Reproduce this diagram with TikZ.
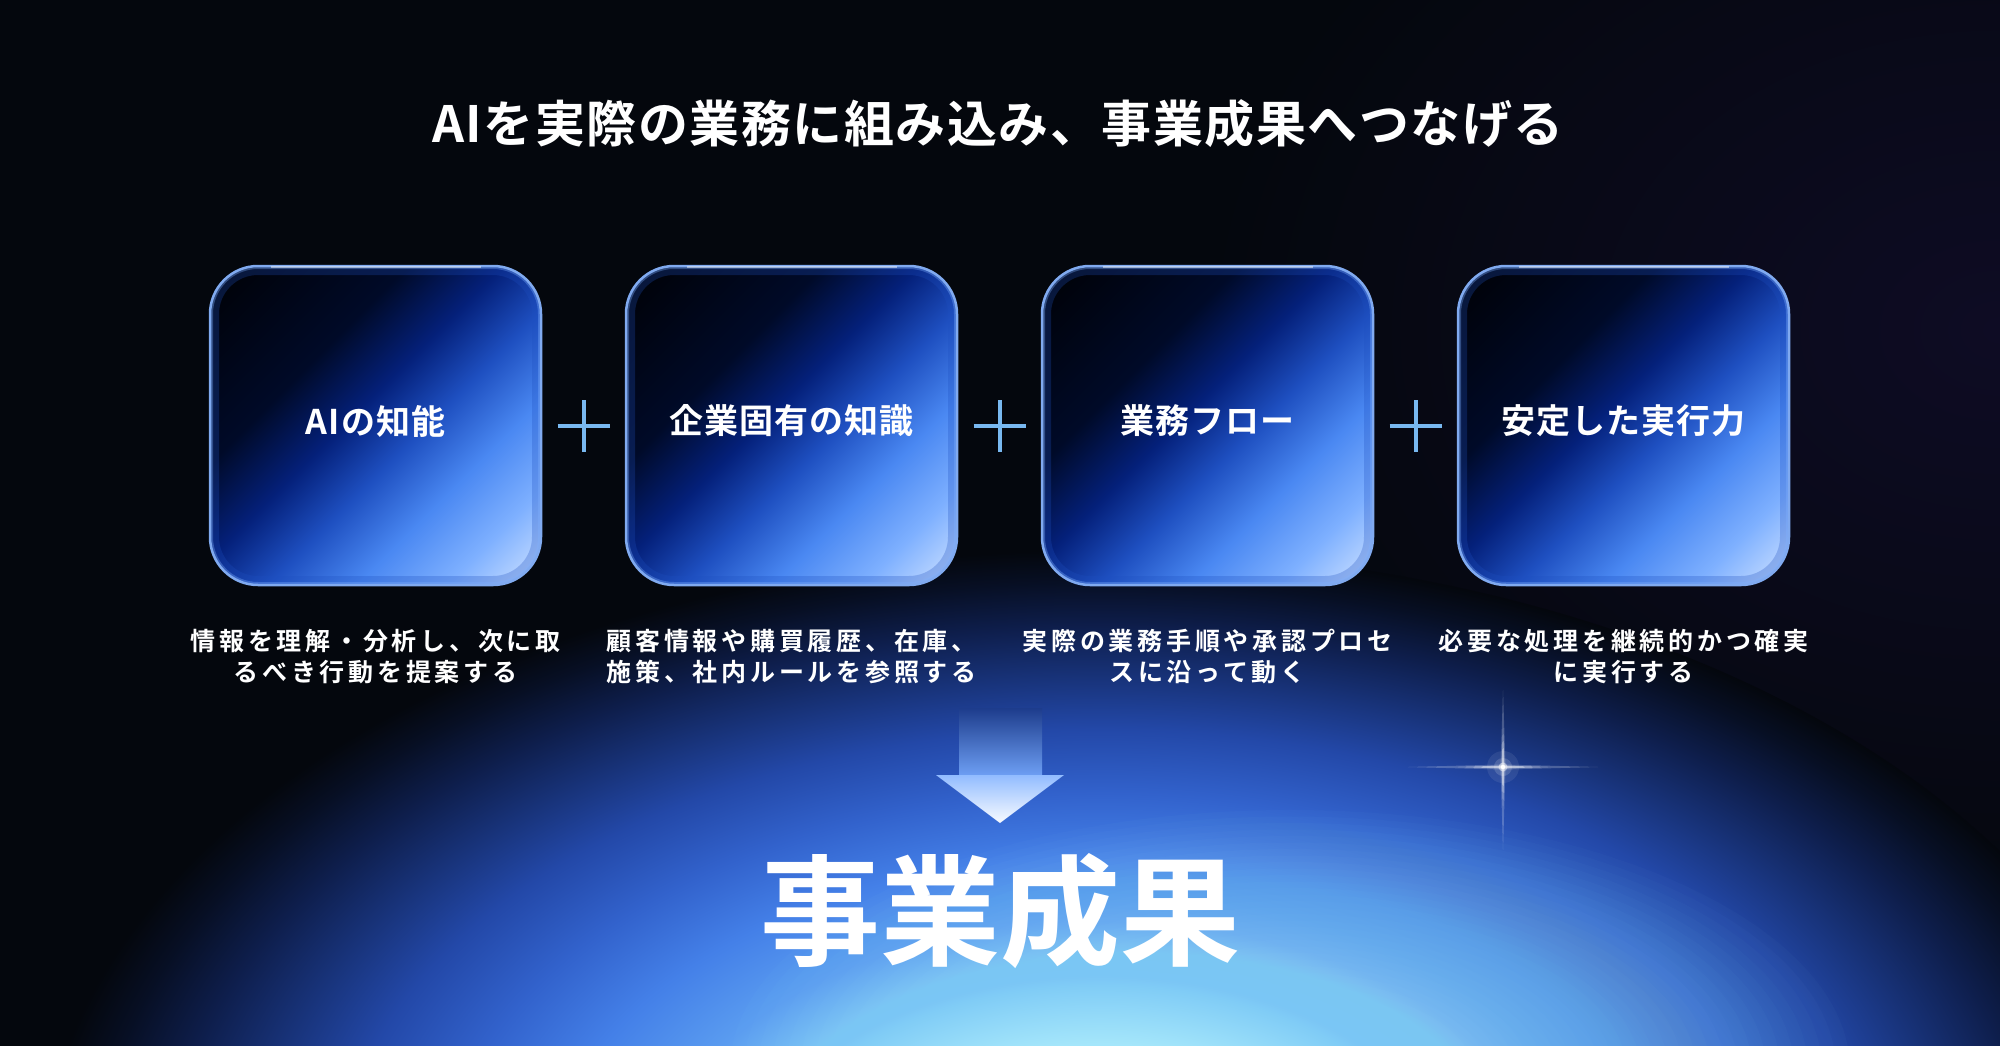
\documentclass[tikz,border=0pt]{standalone}
\usepackage{fontspec}
\setmainfont{Noto Sans CJK JP}[BoldFont={Noto Sans CJK JP Bold}]
\definecolor{bgc}{HTML}{04070D}
\definecolor{g0}{HTML}{E0FBFF}
\definecolor{g1}{HTML}{B0EEFC}
\definecolor{g2}{HTML}{80CCF6}
\definecolor{g3}{HTML}{5A9CF0}
\definecolor{g4}{HTML}{4480E8}
\definecolor{g5}{HTML}{3262CC}
\definecolor{g6}{HTML}{2348A8}
\definecolor{g7}{HTML}{18337A}
\definecolor{g8}{HTML}{0E1E4C}
\definecolor{g9}{HTML}{070F24}
\definecolor{tint}{HTML}{0E0C24}
\definecolor{cyanc}{HTML}{A4F0FC}
\definecolor{shafttop}{HTML}{1D3C8C}
\definecolor{b0}{HTML}{000105}
\definecolor{b1}{HTML}{000A28}
\definecolor{b2}{HTML}{04207A}
\definecolor{b3}{HTML}{1E4FC0}
\definecolor{b4}{HTML}{4A88F2}
\definecolor{b5}{HTML}{7EB0FF}
\definecolor{b6}{HTML}{CFE2FF}
\definecolor{rimc}{HTML}{80AAF0}
\definecolor{plusc}{HTML}{78B8F0}
\pgfdeclareradialshading{glow}{\pgfpoint{0bp}{0bp}}{color(0bp)=(g0); color(5bp)=(g1); color(8bp)=(g2); color(10.5bp)=(g3); color(13bp)=(g4); color(15.5bp)=(g5); color(18bp)=(g6); color(20bp)=(g7); color(22bp)=(g8); color(23.75bp)=(g9); color(25bp)=(bgc); color(50bp)=(bgc)}
\pgfdeclareradialshading{tintsh}{\pgfpoint{0bp}{0bp}}{color(0bp)=(tint); color(25bp)=(bgc); color(50bp)=(bgc)}
\pgfdeclarehorizontalshading{boxsh}{100bp}{color(0bp)=(b0); color(15bp)=(b0); color(36bp)=(b1); color(46.5bp)=(b2); color(55.6bp)=(b3); color(65.4bp)=(b4); color(75.2bp)=(b5); color(85bp)=(b6); color(100bp)=(b6)}
\begin{document}
\begin{tikzpicture}[x=1pt,y=-1pt,
  boxfill/.style={shading=boxsh, shading angle=-45, rounded corners=48},
  innerglow/.style={draw=b3, line width=18, opacity=.28, rounded corners=48},
  innerglowb/.style={draw=b5, line width=6, opacity=.35, rounded corners=48},
  rim/.style={draw=rimc, line width=2.5, rounded corners=48},
  plusline/.style={draw=plusc, line width=4},
  lbl/.style={text=white, font=\fontsize{34}{40}\selectfont\bfseries\addfontfeature{LetterSpace=3}, inner sep=0},
  desc/.style={text=white, align=center, font=\fontsize{25}{31}\selectfont\bfseries\addfontfeature{LetterSpace=15}, inner sep=0},
  ttl/.style={text=white, font=\fontsize{50}{56}\selectfont\bfseries\addfontfeature{LetterSpace=3}, inner sep=0},
  big/.style={text=white, font=\fontsize{120}{130}\selectfont\bfseries, inner sep=0}]
\useasboundingbox (0,0) rectangle (2000,1045);
\fill[bgc] (-20,-20) rectangle (2020,1065);
\shade[shading=tintsh] (2000,330) ellipse [x radius=800, y radius=600];
\shade[shading=glow] (1100,1190) ellipse [x radius=1060, y radius=640];
\foreach \k in {1,...,40}{
  \fill[cyanc, opacity=.023] (1290,1070) ellipse [x radius={14*\k}, y radius={6.5*\k}];
}
% boxes
\foreach \cx in {375.5,791.5,1207.5,1623.5}{
  \shade[boxfill] (\cx-165.5,266) rectangle (\cx+165.5,585);
  \begin{scope}
    \clip[rounded corners=48] (\cx-165.5,266) rectangle (\cx+165.5,585);
    \draw[innerglow] (\cx-165.5,266) rectangle (\cx+165.5,585);
    \draw[innerglowb] (\cx-165.5,266) rectangle (\cx+165.5,585);
  \end{scope}
  \draw[rim] (\cx-165.5,266) rectangle (\cx+165.5,585);
  \draw[white, opacity=.45, line width=2] (\cx-105,267) -- (\cx+105,267);
}
% plus signs
\foreach \px in {583.5,999.5,1415.5}{
  \draw[plusline] (\px-26,426) -- (\px+26,426) (\px,400) -- (\px,452);
}
% labels
\node[lbl] (l1) at (375.5,421) {AIの知能};
\node[lbl] (l2) at (791.5,421) {企業固有の知識};
\node[lbl] (l3) at (1207.5,421) {業務フロー};
\node[lbl] (l4) at (1623.5,421) {安定した実行力};
% descriptions
\node[desc] (d1) at (375.5,657) {情報を理解・分析し、次に取\\るべき行動を提案する};
\node[desc] (d2) at (791.5,657) {顧客情報や購買履歴、在庫、\\施策、社内ルールを参照する};
\node[desc] (d3) at (1207.5,657) {実際の業務手順や承認プロセ\\スに沿って動く};
\node[desc] (d4) at (1623.5,657) {必要な処理を継続的かつ確実\\に実行する};
% title
\node[ttl] (t) at (998,124) {AIを実際の業務に組み込み、事業成果へつなげる};
% arrow
\shade[top color=shafttop, middle color=b4, bottom color=b4!80!white] (959,708) rectangle (1042,776);
\shade[top color=b5!85!white, bottom color=white!95!b5] (936,775) -- (1064,775) -- (1000,823) -- cycle;
% star
\fill[white, opacity=.22] (1408,767) -- (1503,764.5) -- (1598,767) -- (1503,769.5) -- cycle;
\fill[white, opacity=.55] (1458,767) -- (1503,765.6) -- (1548,767) -- (1503,768.4) -- cycle;
\fill[white, opacity=.22] (1503,690) -- (1500.5,767) -- (1503,850) -- (1505.5,767) -- cycle;
\fill[white, opacity=.55] (1503,728) -- (1501.6,767) -- (1503,806) -- (1504.4,767) -- cycle;
\fill[white, opacity=.08] (1503,767) circle (16);
\fill[white, opacity=.15] (1503,767) circle (9);
\fill[white, opacity=.45] (1503,767) circle (4.5);
\fill[white] (1503,767) circle (2.2);
% result
\node[big] (res) at (1000,911) {事業成果};
\end{tikzpicture}
\end{document}
